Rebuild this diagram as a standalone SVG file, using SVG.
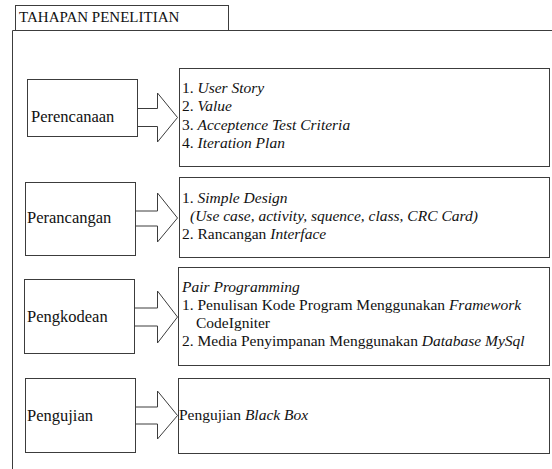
<svg xmlns="http://www.w3.org/2000/svg" width="552" height="469" viewBox="0 0 552 469">
<style>
.frame{fill:none;stroke:#3c3c3c;stroke-width:1}
.box{fill:#fff;stroke:#3c3c3c;stroke-width:1}
.arrow{fill:#fff;stroke:#3c3c3c;stroke-width:1;stroke-linejoin:miter}
.t{font-family:'Liberation Serif','DejaVu Serif','Noto Serif',serif;fill:#111}
.lbl{font-size:16.5px}
.txt{font-size:15.5px}
.ttl{font-size:15px}
.i{font-style:italic}
</style>
<rect width="552" height="469" fill="#fff"/>
<g id="frame">
<rect class="frame" x="15.5" y="5.5" width="213" height="25"/>
<path class="frame" d="M12.5,469 V30.5 H552"/>
<text class="t ttl" x="19" y="22">TAHAPAN PENELITIAN</text>
</g>
<g id="connectors">
<path class="arrow" d="M137,108.5 H157.5 V93 L177.5,117.5 L157.5,142 V126.5 H137"/>
<path class="arrow" d="M135,211 H157.5 V193 L177.5,218 L157.5,242 V226 H135"/>
<path class="arrow" d="M134,308 H157.5 V291 L177.5,317 L157.5,343 V326 H134"/>
<path class="arrow" d="M135,407 H157.5 V391 L177.5,415.5 L157.5,439 V424 H135"/>
</g>
<g id="perencanaan">
<rect class="box" x="27.5" y="79.5" width="110" height="57"/>
<text class="t lbl" x="31" y="122">Perencanaan</text>
</g>
<g id="perencanaan-detail">
<rect class="box" x="179.5" y="68.5" width="370" height="98"/>
<text class="t txt" x="182" y="93">1. <tspan class="i">User Story</tspan></text>
<text class="t txt" x="182" y="111">2. <tspan class="i">Value</tspan></text>
<text class="t txt" x="182" y="130">3. <tspan class="i">Acceptence Test Criteria</tspan></text>
<text class="t txt" x="182" y="148">4. <tspan class="i">Iteration Plan</tspan></text>
</g>
<g id="perancangan">
<rect class="box" x="25.5" y="182.5" width="110" height="73"/>
<text class="t lbl" x="27" y="223">Perancangan</text>
</g>
<g id="perancangan-detail">
<rect class="box" x="179.5" y="177.5" width="370" height="80"/>
<text class="t txt" x="182" y="203">1. <tspan class="i">Simple Design</tspan></text>
<text class="t txt i" x="190" y="221">(Use case, activity, squence, class, CRC Card)</text>
<text class="t txt" x="182" y="239">2. Rancangan <tspan class="i">Interface</tspan></text>
</g>
<g id="pengkodean">
<rect class="box" x="24.5" y="279.5" width="110" height="74"/>
<text class="t lbl" x="27" y="322">Pengkodean</text>
</g>
<g id="pengkodean-detail">
<rect class="box" x="178.5" y="267.5" width="371" height="98"/>
<text class="t txt i" x="182" y="292">Pair Programming</text>
<text class="t txt" x="182" y="310">1. Penulisan Kode Program Menggunakan <tspan class="i">Framework</tspan></text>
<text class="t txt" x="196" y="328">CodeIgniter</text>
<text class="t txt" x="182" y="346">2. Media Penyimpanan Menggunakan <tspan class="i">Database MySql</tspan></text>
</g>
<g id="pengujian">
<rect class="box" x="25.5" y="378.5" width="110" height="74"/>
<text class="t lbl" x="27" y="421">Pengujian</text>
</g>
<g id="pengujian-detail">
<rect class="box" x="178.5" y="378.5" width="371" height="75"/>
<text class="t txt" x="179" y="420">Pengujian <tspan class="i">Black Box</tspan></text>
</g>
</svg>
